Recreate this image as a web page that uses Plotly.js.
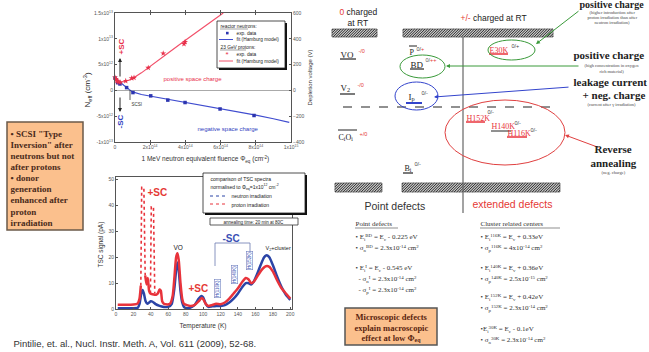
<!DOCTYPE html>
<html><head><meta charset="utf-8">
<script src="https://cdn.plot.ly/plotly-3.0.1.min.js"></script>
<style>html,body{margin:0;padding:0;background:#fff;overflow:hidden}#chart{width:649px;height:352px}</style>
</head><body><div id="chart"></div>
<script>
// ---------- Data: Neff vs fluence ----------
const fluenceBlue = [0, 1.5e13, 2.8e13, 6.6e13, 1.02e14, 2.03e14, 3.0e14, 3.98e14, 5.97e14, 7.9e14];
const neffBlue    = [2.4e12, 1.5e12, 1.25e12, 0.54e12, -0.42e12, -1.06e12, -1.88e12, -2.35e12, -3.6e12, -4.86e12];
const fluenceRed  = [0, 0.5e13, 1e13, 1.5e13, 2e13, 3e13, 6.1e13, 9.5e13, 1.08e14, 1.89e14, 2.74e14, 3.92e14, 3.98e14];
const neffRed     = [2.5e12, 2.2e12, 1.9e12, 1.8e12, 1.6e12, 1.55e12, 1.83e12, 2.35e12, 2.45e12, 4.38e12, 7.17e12, 9.0e12, 9.4e12];
const fitBlueX = [0, 2e13, 5e13, 8e13, 1e14, 1.5e14, 2e14, 3e14, 4e14, 5e14, 6e14, 7e14, 8e14, 9e14, 9.9e14];
const fitBlueY = [2.4e12, 1.9e12, 1.0e12, 0.2e12, -0.3e12, -0.8e12, -1.1e12, -1.7e12, -2.3e12, -2.9e12, -3.5e12, -4.1e12, -4.8e12, -5.5e12, -6.2e12];
const fitRedX  = [0, 1e13, 3e13, 5e13, 8e13, 1e14, 1.5e14, 2e14, 3e14, 4e14, 5e14, 6e14, 6.15e14];
const fitRedY  = [2.4e12, 2.0e12, 1.6e12, 1.7e12, 2.0e12, 2.3e12, 3.4e12, 4.7e12, 7.2e12, 9.7e12, 12.2e12, 14.6e12, 15e12];
const fluenceTicks = [0, 2e14, 4e14, 6e14, 8e14, 1e15];
const fluenceTickText = ['0','2x10<sup>14</sup>','4x10<sup>14</sup>','6x10<sup>14</sup>','8x10<sup>14</sup>','1x10<sup>15</sup>'];
const neffTicks = [-1e13, -5e12, 0, 5e12, 1e13, 1.5e13];
const neffTickText = ['-1x10<sup>13</sup>','-5x10<sup>12</sup>','0','5x10<sup>12</sup>','1x10<sup>13</sup>','1.5x10<sup>13</sup>'];
const voltTicks = [-400, -200, 0, 200, 400, 600];

// ---------- Data: TSC spectra ----------
const tempNeutron = [2,10,20,25,27,29,30.5,32,34,36,38,40,42,45,50,55,60,64,67,69,70.5,72,74,76,78,80,85,90,95,98,100,103,106,110,115,120,125,130,135,140,145,149,152,155,158,162,166,170,173,176,180,185,190,195,200];
const tscNeutron  = [0.3,0.3,0.3,0.5,2,6,7.3,6,3,2,2.5,3,2.8,2,1.2,0.8,0.8,2,8,15,18,15,7,2.5,0.8,0.4,0.5,1.5,4,5,4.5,2,0.8,1,1.2,1.2,1.5,2.5,4,6,8.5,10,10,9.5,10.5,13.5,17,20,20.8,20,17,12.5,8.5,5.5,3.5];
const tempProton  = [2,10,20,25,27,28.5,31,33.5,35,36.5,38,39.5,42,44.5,46,48,50,51.5,53,55,57,62,65,67,69,70.5,72,74,76,78,85,90,95,98,100,103,106,110,115,120,125,130,135,140,145,149,152,155,158,162,167,172,176,180,185,190,195,200];
const tscProton   = [1.6,1.6,1.7,2.2,4,9,null,13,9.5,12,7,6,5.7,5.5,5.5,6,7.5,7,3,2,1.8,2,5,12,20,21.5,19,10,4,2,1.2,1.5,3,4.2,3.8,2,1.2,1.5,2,1.8,2.5,4,6,8,10.5,12,11.5,10,10.5,12.5,15,16.5,16.3,14.5,11,8,6,4];
const tempSpikes  = [28.5,29,29.5,32,32.5,33.5,null,39.5,40,40.5,43,43.5,44.5];
const tscSpikes   = [9,30,47,47,30,13,null,6,25,39.5,39.5,25,6];
const tempTicks = [0,20,40,60,80,100,120,140,160,180,200];
const tscTicks  = [0,10,20,30,40,50];

// ---------- helpers (pixel -> paper) ----------
const W=649, H=352;
const SANS='Liberation Sans, Arial, sans-serif', SERIF='Liberation Serif, Times New Roman, serif';
const X=p=>p/W, Y=p=>1-p/H;
function A(x,y,text,size,color,o={}){
  return {xref:'paper',yref:'paper',x:X(x),y:Y(y),text:text,showarrow:false,
    font:{family:o.family||SANS,size:size,color:color||'#222'},
    xanchor:o.anchor||'center',yanchor:'middle',textangle:o.angle||0,
    bordercolor:o.border||'rgba(0,0,0,0)',borderwidth:o.border?0.6:0,borderpad:0.5};
}
function AR(tx,ty,fx,fy,color){
  return {xref:'paper',yref:'paper',x:X(tx),y:Y(ty),ax:fx-tx,ay:fy-ty,text:'',showarrow:true,
    arrowhead:2,arrowsize:0.8,arrowwidth:1,arrowcolor:color,standoff:0};
}
function L(x0,y0,x1,y1,color,w,dash){
  return {type:'line',xref:'paper',yref:'paper',x0:X(x0),y0:Y(y0),x1:X(x1),y1:Y(y1),line:{color:color||'#222',width:w||1,dash:dash||'solid'}};
}
function R(x0,y0,x1,y1,fill,line,lw){
  return {type:'rect',xref:'paper',yref:'paper',x0:X(x0),y0:Y(y0),x1:X(x1),y1:Y(y1),fillcolor:fill,line:{color:line||fill,width:lw===undefined?0:lw}};
}
function E(cx,cy,rx,ry,color,w){
  return {type:'circle',xref:'paper',yref:'paper',x0:X(cx-rx),y0:Y(cy+ry),x1:X(cx+rx),y1:Y(cy-ry),line:{color:color,width:w||1}};
}
function hatch(x0,y0,x1,y1,step){
  let d='';
  for(let c=x0+y0+step/2;c<x1+y1;c+=step){
    const xa=Math.max(x0,c-y1), xb=Math.min(x1,c-y0);
    if(xb<=xa) continue;
    d+='M'+X(xa).toFixed(5)+','+Y(c-xa).toFixed(5)+'L'+X(xb).toFixed(5)+','+Y(c-xb).toFixed(5);
  }
  return [R(x0,y0,x1,y1,'#c8c8c8','#333',0.6),{type:'path',xref:'paper',yref:'paper',path:d,line:{color:'#2a2a2a',width:1}}];
}

const BLUE='#3f4ccf', RED='#f2506a', TBLUE='#2b44a6', TRED='#e8333b';

const traces=[
  {x:fitBlueX,y:fitBlueY,xaxis:'x',yaxis:'y',mode:'lines',line:{color:BLUE,width:1.2},hoverinfo:'skip'},
  {x:fitRedX,y:fitRedY,xaxis:'x',yaxis:'y',mode:'lines',line:{color:RED,width:1.2},hoverinfo:'skip'},
  {x:fluenceBlue,y:neffBlue,xaxis:'x',yaxis:'y',mode:'markers',marker:{symbol:'square',size:3.5,color:'#2c35b0'},cliponaxis:false},
  {x:fluenceRed,y:neffRed,xaxis:'x',yaxis:'y',mode:'markers',marker:{symbol:'star',size:4.5,color:'#e8304a'},cliponaxis:false},
  {x:[0],y:[0],xaxis:'x',yaxis:'y3',mode:'markers',marker:{opacity:0},hoverinfo:'skip'},
  {x:tempNeutron,y:tscNeutron,xaxis:'x2',yaxis:'y2',mode:'lines',line:{color:TBLUE,width:2.5,shape:'spline',smoothing:0.5}},
  {x:tempProton,y:tscProton,xaxis:'x2',yaxis:'y2',mode:'lines',connectgaps:false,line:{color:TRED,width:2.5,shape:'spline',smoothing:0.5}},
  {x:tempSpikes,y:tscSpikes,xaxis:'x2',yaxis:'y2',mode:'lines',connectgaps:false,line:{color:TRED,width:1.6,dash:'dot'}}
];

const tickf={family:SANS,size:5,color:'#555'};
const ax={showline:true,linecolor:'#555',linewidth:1,ticks:'inside',ticklen:2,tickcolor:'#555',tickfont:tickf,showgrid:false,zeroline:false};

const shapes=[
  // top legend
  R(219,23,287,70,'#111'), R(217,21,285,68,'#fff','#222',0.8),
  L(220,29,248,29,'#444',0.5), R(226,31.8,228.6,34.4,'#2c35b0'),
  L(219,39.5,233,39.5,BLUE,1), L(220,50,246,50,'#444',0.5), L(219,61,233,61,RED,1),
  L(130,90,130,100,'#333',0.8),
  // TSC legend
  R(205,175,307,215,'#111'), R(203,173,305,213,'#fff','#222',0.8),
  L(210,196,227,196,TBLUE,1,'dot'), L(210,204,227,204,TRED,1,'dot'),
  R(210,218,298,225,'#fff','#333',0.8),
  // -SC bracket
  L(215,243,250,243,'#6a7ab0',0.8), L(215,243,215,266,'#6a7ab0',0.8), L(250,243,250,252,'#6a7ab0',0.8),
  // orange boxes
  R(7,122,83,230,'#fbc08d','#6b5a4a',1.5),
  R(345,308,437,345,'#fbc08d','#555',1.5),
  // band diagram: conduction / valence band hatched bars
  ...hatch(332,29,377,37,2.6), ...hatch(403,29,553,37,2.6),
  ...hatch(335,183,382,192,2.6), ...hatch(402,183,560,192,2.6),
  L(463,37,463,213,'#666',1.2),
  L(343,107,553,107,'#222',1.2,'dash'),
  L(340,59,356,59,'#222',1.2), L(409,46,417,46,'#222',1), L(410,69,424,69,'#222',1.2),
  L(340,94,355,94,'#222',1.2), L(406,103,422,103,'#3344cc',2), L(338,130,357,130,'#222',1),
  L(403,173,413,173,'#222',1.2),
  L(489,54,508,54,TRED,1.5), L(466,122,485,122,TRED,1.5), L(491,131,511,131,'#222',1), L(507,137,527,137,TRED,1.5),
  E(511.5,50,23.5,10,'#3a9a3a',1), E(422.5,66.5,22.5,11.5,'#3a9a3a',1),
  E(416.5,96,21.5,14,'#3344cc',1), E(505,132.5,60,32.5,'#e04040',1),
  // lists underlines
  L(355,228,398,228,'#444',0.6), L(480,228,560,228,'#444',0.6)
];

const rb=(t)=>'<b>'+t+'</b>';
const ann=[
  // top chart
  A(87,90,'N<sub>eff</sub> (cm<sup>-3</sup>)',8,'#222',{angle:-90}),
  A(310,78,'Depletion voltage (V)',6,'#333',{angle:-90}),
  A(205,159,'1 MeV neutron equivalent fluence Φ<sub>eq</sub> (cm<sup>-2</sup>)',6.5,'#333'),
  A(121,47,rb('+SC'),8,'#e8304a',{angle:-90}),
  A(120,122,rb('-SC'),8,'#3040c0',{angle:-90}),
  AR(120,58,120,78,'#222'), AR(120,112,120,96,'#222'),
  A(137,104,'SCSI',4.5,'#333'),
  A(193,79,'positive space charge',6,'#e8304a'),
  A(228,128,'negative space charge',6,'#3040c0'),
  A(220,26,'reactor neutrons:',4.8,'#222',{anchor:'left'}),
  A(236,33,'exp. data',4.8,'#222',{anchor:'left'}),
  A(236,39.5,'fit (Hamburg model)',4.8,'#222',{anchor:'left'}),
  A(220,47,'23 GeV protons:',4.8,'#222',{anchor:'left'}),
  A(227,54.5,'*',8,'#e8304a'),
  A(236,54,'exp. data',4.8,'#222',{anchor:'left'}),
  A(236,61,'fit (Hamburg model)',4.8,'#222',{anchor:'left'}),
  // TSC chart
  A(100,245,'TSC signal (pA)',6.5,'#333',{angle:-90}),
  A(203,325,'Temperature (K)',6.5,'#333'),
  A(210,178,'comparison of TSC spectra',5,'#222',{anchor:'left'}),
  A(210,187,'normalised to Φ<sub>eq</sub>=1x10<sup>12</sup> cm<sup>-2</sup>',5,'#222',{anchor:'left'}),
  A(231,196,'neutron irradiation',5,'#222',{anchor:'left'}),
  A(231,204,'proton irradiation',5,'#222',{anchor:'left'}),
  A(254,221.5,'annealing time: 20 min at 80C',4.5,'#222'),
  A(157,192,rb('+SC'),10,'#e53935'),
  A(198,288,rb('+SC'),10,'#e53935'),
  A(231,238,rb('-SC'),10,'#3a4fb5'),
  A(178,247,'VO',6.5,'#222'),
  A(278,248,'V<sub>2</sub>+cluster',5.5,'#222'),
  A(217,289,'H(116K)',4.5,'#4458b8',{angle:-90,border:'#7080c0'}),
  A(234,275,'H(140K)',4.5,'#4458b8',{angle:-90,border:'#7080c0'}),
  A(249,261,'H(152K)',4.5,'#4458b8',{angle:-90,border:'#7080c0'}),
  // left box
  A(10,133,rb('• SCSI "Type'),9,'#4a2a1a',{family:SERIF,anchor:'left'}),
  A(10,145,rb('Inversion" after'),9,'#4a2a1a',{family:SERIF,anchor:'left'}),
  A(10,156,rb('neutrons but not'),9,'#4a2a1a',{family:SERIF,anchor:'left'}),
  A(10,167,rb('after protons'),9,'#4a2a1a',{family:SERIF,anchor:'left'}),
  A(10,177,rb('• donor'),9,'#4a2a1a',{family:SERIF,anchor:'left'}),
  A(10,188,rb('generation'),9,'#4a2a1a',{family:SERIF,anchor:'left'}),
  A(10,199,rb('enhanced after'),9,'#4a2a1a',{family:SERIF,anchor:'left'}),
  A(10,211,rb('proton'),9,'#4a2a1a',{family:SERIF,anchor:'left'}),
  A(10,222,rb('irradiation'),9,'#4a2a1a',{family:SERIF,anchor:'left'}),
  A(13,343,'Pintilie, et. al., Nucl. Instr. Meth. A, Vol. 611 (2009), 52-68.',9.5,'#333',{anchor:'left'}),
  // band diagram header
  A(358,12,'<span style="color:#e53935">0</span> charged',8.5,'#222'),
  A(358,23,'at RT',8.5,'#222'),
  A(493,17,'<span style="color:#e53935">+/-</span> charged at RT',8.5,'#222'),
  // levels
  A(340,54,'VO',9,'#222',{family:SERIF,anchor:'left'}), A(358,50,'-/0',5.5,'#e53935',{anchor:'left'}),
  A(409,52,'P',8,'#222',{family:SERIF,anchor:'left'}), A(416,48,'0/<span style="color:#e53935">+</span>',5.5,'#444',{anchor:'left'}),
  A(410,64,'BD',9,'#222',{family:SERIF,anchor:'left'}), A(425,60,'0/<span style="color:#e53935">++</span>',5.5,'#555',{anchor:'left'}),
  A(340,88,'V<sub>2</sub>',9,'#222',{family:SERIF,anchor:'left'}), A(357,84,'-/0',5.5,'#e53935',{anchor:'left'}),
  A(408,97,'I<sub>p</sub>',9,'#222',{family:SERIF,anchor:'left'}), A(421,93,'0/-',5.5,'#444',{anchor:'left'}),
  A(338,137,'C<sub>i</sub>O<sub>i</sub>',8,'#222',{family:SERIF,anchor:'left'}), A(359,133,'+/0',5.5,'#e53935',{anchor:'left'}),
  A(404,168,'B<sub>i</sub>',8,'#222',{family:SERIF,anchor:'left'}), A(414,164,'0/-',5.5,'#444',{anchor:'left'}),
  A(489,50,'E30K',8,TRED,{family:SERIF,anchor:'left'}), A(511,46,'0/+',5.5,'#444',{anchor:'left'}),
  A(466,118,'H152K',8,TRED,{family:SERIF,anchor:'left'}), A(487,112,'0/-',5.5,'#444',{anchor:'left'}),
  A(491,126,'H140K',8,TRED,{family:SERIF,anchor:'left'}), A(514,122,'0/-',5.5,'#444',{anchor:'left'}),
  A(507,133,'H116K',8,TRED,{family:SERIF,anchor:'left'}), A(530,129,'0/-',5.5,'#444',{anchor:'left'}),
  // connectors
  AR(536,44,580,10,'#3a9a3a'), AR(446,66,580,66,'#3a9a3a'), AR(434,97,570,87,'#3344cc'), AR(565,135,600,148,'#e04040'),
  // right side explanations
  A(612,4,rb('positive charge'),10,'#222',{family:SERIF}),
  A(612,12,'(higher introduction after',4.5,'#444',{family:SERIF}),
  A(612,17,'proton irradiation than after',4.5,'#444',{family:SERIF}),
  A(612,22,'neutron irradiation)',4.5,'#444',{family:SERIF}),
  A(609,54,rb('positive charge'),11,'#222',{family:SERIF}),
  A(612,65,'(high concentration in oxygen',4.5,'#444',{family:SERIF}),
  A(612,71,'rich material)',4.5,'#444',{family:SERIF}),
  A(610,81,rb('leakage current'),11,'#222',{family:SERIF}),
  A(614,94,rb('+ neg. charge'),11,'#222',{family:SERIF}),
  A(612,104,'(current after γ irradiation)',4.5,'#444',{family:SERIF}),
  A(613,148,rb('Reverse'),11,'#222',{family:SERIF}),
  A(613,162,rb('annealing'),11,'#222',{family:SERIF}),
  A(613,172,'(neg. charge)',4.5,'#444',{family:SERIF}),
  // bottom right
  A(395,205,'Point defects',10.5,'#333'),
  A(512,203,'extended defects',10.5,'#e53935'),
  A(355,223,'Point defects',7,'#333',{family:SERIF,anchor:'left'}),
  A(355,237,'• E<sub>i</sub><sup>BD</sup> = E<sub>c</sub> - 0.225 eV',7,'#333',{family:SERIF,anchor:'left'}),
  A(355,248,'• σ<sub>n</sub><sup>BD</sup> = 2.3x10<sup>-14</sup> cm<sup>2</sup>',7,'#333',{family:SERIF,anchor:'left'}),
  A(355,268,'• E<sub>i</sub><sup>I</sup> = E<sub>c</sub> - 0.545 eV',7,'#333',{family:SERIF,anchor:'left'}),
  A(358,279,'- σ<sub>n</sub><sup>I</sup> = 2.3x10<sup>-14</sup> cm<sup>2</sup>',7,'#333',{family:SERIF,anchor:'left'}),
  A(358,290,'- σ<sub>p</sub><sup>I</sup> = 2.3x10<sup>-14</sup> cm<sup>2</sup>',7,'#333',{family:SERIF,anchor:'left'}),
  A(480,223,'Cluster related centers',7,'#333',{family:SERIF,anchor:'left'}),
  A(480,237,'• E<sub>i</sub><sup>116K</sup> = E<sub>v</sub> + 0.33eV',7,'#333',{family:SERIF,anchor:'left'}),
  A(480,248,'• σ<sub>p</sub><sup>116K</sup> = 4x10<sup>-14</sup> cm<sup>2</sup>',7,'#333',{family:SERIF,anchor:'left'}),
  A(480,268,'• E<sub>i</sub><sup>140K</sup> = E<sub>v</sub> + 0.36eV',7,'#333',{family:SERIF,anchor:'left'}),
  A(480,279,'• σ<sub>p</sub><sup>140K</sup> = 2.5x10<sup>-15</sup> cm<sup>2</sup>',7,'#333',{family:SERIF,anchor:'left'}),
  A(480,297,'• E<sub>i</sub><sup>152K</sup> = E<sub>v</sub> + 0.42eV',7,'#333',{family:SERIF,anchor:'left'}),
  A(480,308,'• σ<sub>p</sub><sup>152K</sup> = 2.3x10<sup>-14</sup> cm<sup>2</sup>',7,'#333',{family:SERIF,anchor:'left'}),
  A(480,329,'•E<sub>i</sub><sup>30K</sup> = E<sub>c</sub> - 0.1eV',7,'#333',{family:SERIF,anchor:'left'}),
  A(480,340,'• σ<sub>n</sub><sup>30K</sup> = 2.3x10<sup>-14</sup> cm<sup>2</sup>',7,'#333',{family:SERIF,anchor:'left'}),
  A(391,316,rb('Microscopic defects'),8.5,'#5a2510',{family:SERIF}),
  A(391,327,rb('explain macroscopic'),8.5,'#5a2510',{family:SERIF}),
  A(391,338,rb('effect at low Φ<sub>eq</sub>'),8.5,'#5a2510',{family:SERIF})
];

const layout={
  width:W,height:H,margin:{l:0,r:0,t:0,b:0},paper_bgcolor:'#fff',plot_bgcolor:'rgba(0,0,0,0)',
  showlegend:false,font:{family:SANS},
  xaxis:Object.assign({},ax,{domain:[115/W,291/W],range:[0,1e15],anchor:'y',mirror:'allticks',tickvals:fluenceTicks,ticktext:fluenceTickText}),
  yaxis:Object.assign({},ax,{domain:[1-142/H,1-13/H],range:[-1e13,1.5e13],anchor:'x',tickvals:neffTicks,ticktext:neffTickText,zeroline:true,zerolinecolor:'#aaa',zerolinewidth:1}),
  yaxis3:Object.assign({},ax,{overlaying:'y',side:'right',anchor:'x',range:[-400,600],tickvals:voltTicks}),
  xaxis2:Object.assign({},ax,{domain:[116/W,292/W],range:[0,202],anchor:'y2',mirror:true,tickvals:tempTicks}),
  yaxis2:Object.assign({},ax,{domain:[1-309/H,1-177/H],range:[0,51],anchor:'x2',mirror:true,tickvals:tscTicks}),
  shapes:shapes,annotations:ann
};
Plotly.newPlot('chart',traces,layout,{staticPlot:true,displayModeBar:false});
</script></body></html>
